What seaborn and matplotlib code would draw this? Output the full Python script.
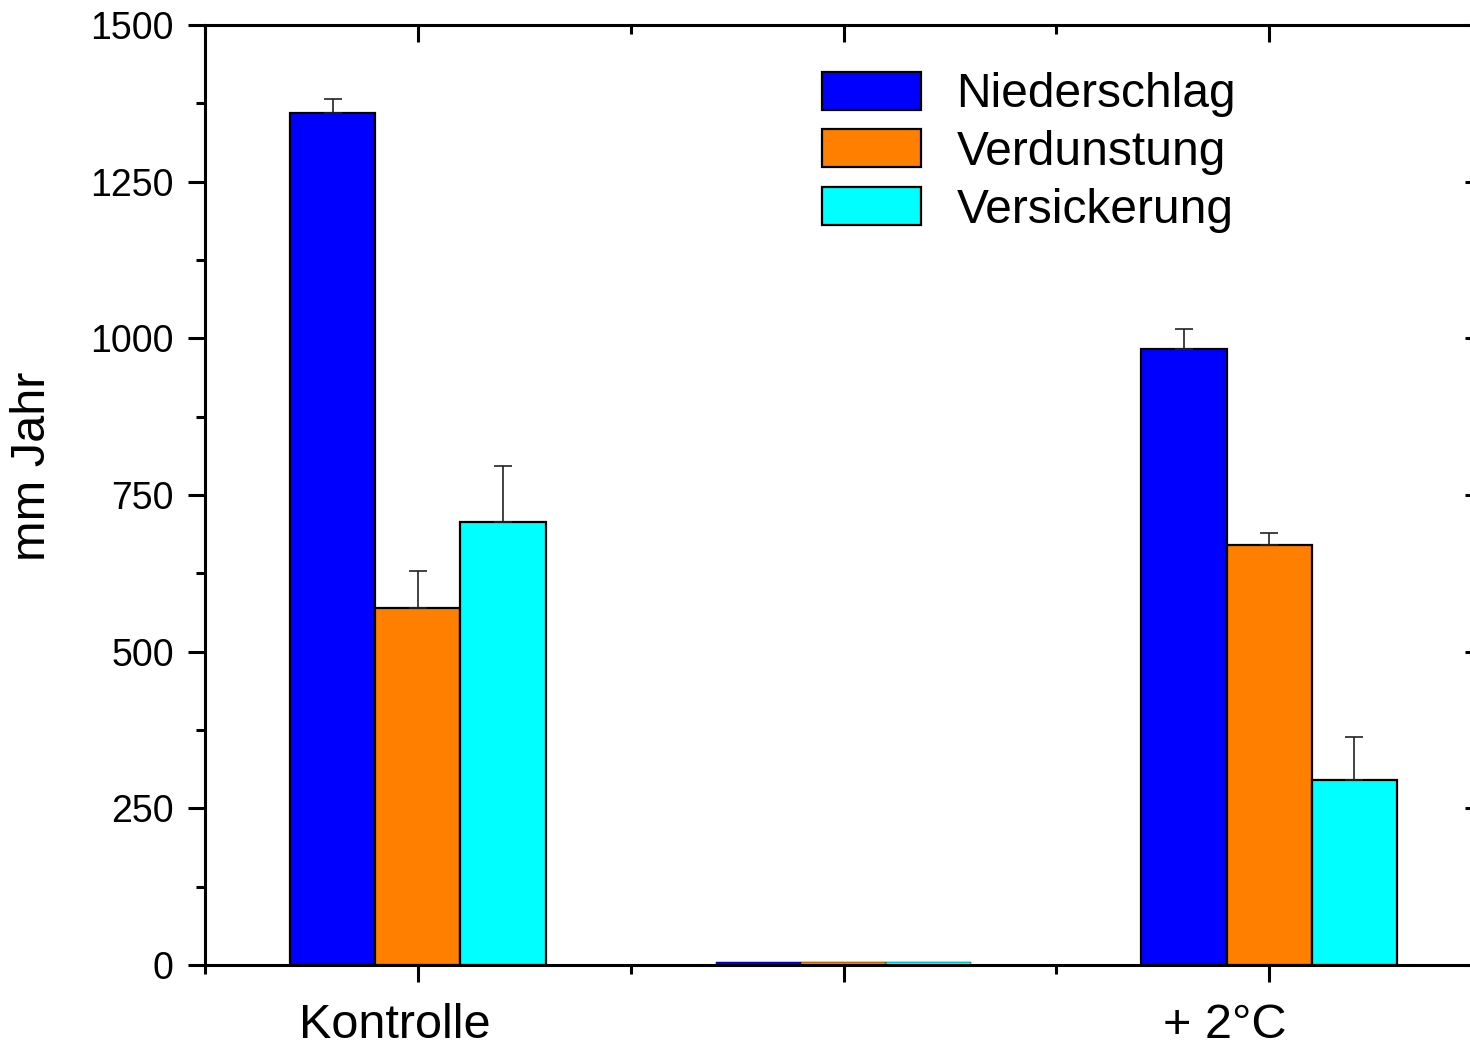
import matplotlib
matplotlib.use("Agg")
import matplotlib.pyplot as plt
import matplotlib.transforms as mtransforms
from matplotlib.ticker import MultipleLocator, FixedLocator
import numpy as np
import pandas as pd
import seaborn as sns

# Water balance per treatment (mm per year)
groups = ["Kontrolle", " ", "+ 2°C"]
series = ["Niederschlag", "Verdunstung", "Versickerung"]
niederschlag = [1360, 4, 983]
verdunstung = [570, 4, 670]
versickerung = [707, 4, 295]
niederschlag_err = [22, 0, 32]
verdunstung_err = [59, 0, 19]
versickerung_err = [89, 0, 69]
colors = ["#0000FF", "#FF8000", "#00FFFF"]

values = [niederschlag, verdunstung, versickerung]
errors = [niederschlag_err, verdunstung_err, versickerung_err]

df = pd.DataFrame({
    "Gruppe": np.tile(groups, len(series)),
    "Reihe": np.repeat(series, len(groups)),
    "Wert": np.concatenate(values),
})

sns.set_theme(style="white")
plt.rcParams["font.family"] = ["Liberation Sans", "DejaVu Sans"]
plt.rcParams["text.color"] = "black"
plt.rcParams["axes.labelcolor"] = "black"
plt.rcParams["xtick.color"] = "black"
plt.rcParams["ytick.color"] = "black"

fig = plt.figure(figsize=(14.7, 10.49), dpi=100)
ax = fig.add_axes([205 / 1470, 84 / 1049, 1277 / 1470, 940 / 1049])

sns.barplot(data=df, x="Gruppe", y="Wert", hue="Reihe", order=groups,
            hue_order=series, palette=colors, width=0.6, errorbar=None,
            edgecolor="black", linewidth=1.6, saturation=1, ax=ax)

# Upper error bars at the bar centres; near-empty bars get a thin outline
for cont, err in zip(ax.containers, errors):
    for rect, e in zip(cont, err):
        if rect.get_height() < 10:
            rect.set_linewidth(0.3)
        if e <= 0:
            continue
        xc = rect.get_x() + rect.get_width() / 2
        h = rect.get_height()
        ax.errorbar([xc], [h], yerr=[[0], [e]], fmt="none", ecolor="#222222",
                    elinewidth=1.2, capsize=6.8, capthick=1.2)

ax.set_xlim(-0.5, 2.5)
ax.set_ylim(0, 1500)
ax.yaxis.set_major_locator(MultipleLocator(250))
ax.yaxis.set_minor_locator(MultipleLocator(125))
ax.xaxis.set_minor_locator(FixedLocator([-0.5, 0.5, 1.5, 2.5]))

for side in ["left", "right", "top", "bottom"]:
    ax.spines[side].set_visible(True)
    ax.spines[side].set_linewidth(2.2)
    ax.spines[side].set_color("black")

ax.tick_params(axis="both", which="both", colors="black", width=2.2,
               labelsize=27, top=True, right=True)
ax.tick_params(axis="both", which="major", length=12.5)
ax.tick_params(axis="both", which="minor", length=6.5)
ax.tick_params(axis="x", which="major", labelsize=35, pad=15)
ax.tick_params(axis="y", which="major", pad=10)
ax.tick_params(axis="x", which="both", direction="out", top=True)
ax.tick_params(axis="y", which="both", direction="out", right=True)
# Inner ticks on top and right spines
ax.xaxis.set_ticks_position("both")
ax.yaxis.set_ticks_position("both")
for t in ax.xaxis.get_major_ticks() + ax.xaxis.get_minor_ticks():
    t.tick2line.set_marker(matplotlib.lines.TICKDOWN)
for t in ax.yaxis.get_major_ticks() + ax.yaxis.get_minor_ticks():
    t.tick2line.set_marker(matplotlib.lines.TICKLEFT)

ax.set_xlabel("")
ax.set_ylabel("mm Jahr", fontsize=35)
ax.yaxis.set_label_coords(-0.1175, 0.531)

# Nudge the group labels
shifts = [-23, 0, -44]
for lbl, dx in zip(ax.get_xticklabels(), shifts):
    lbl.set_transform(lbl.get_transform() +
                      mtransforms.ScaledTranslation(dx / 100, 0, fig.dpi_scale_trans))

leg = ax.legend(loc="upper left", bbox_to_anchor=(0.483, 0.9505), frameon=False,
                fontsize=34.5, handlelength=2.08, handleheight=0.85,
                handletextpad=0.73, labelspacing=0.25, borderaxespad=0,
                borderpad=0)
for h in leg.legend_handles:
    h.set_linewidth(1.6)

fig.savefig("out.png", dpi=100)
